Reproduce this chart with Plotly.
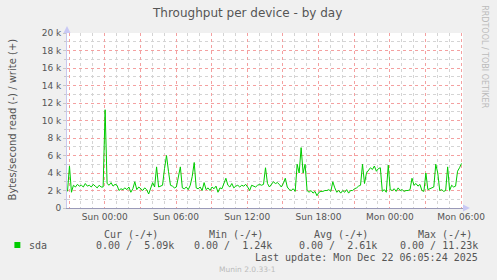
import plotly.graph_objects as go
import pandas as pd

# ---- data (write bytes/second, in thousands; 10-minute samples) ----
write_k = [
    1.9, 4.8, 1.8, 2.6, 2.4, 2.7, 2.5, 2.6, 2.4, 2.8,
    2.5, 2.6, 2.4, 2.7, 2.5, 2.3, 2.6, 2.4, 2.4, 11.23,
    2.8, 2.6, 2.9, 2.5, 2.7, 2.6, 2.0, 2.2, 2.1, 2.3,
    2.1, 2.4, 1.8, 2.2, 3.0, 2.1, 2.4, 2.2, 2.0, 2.3,
    2.1, 1.6, 2.2, 2.9, 2.4, 4.7, 2.4, 2.5, 2.6, 4.5,
    6.0, 4.2, 2.6, 2.5, 2.3, 2.4, 3.4, 4.7, 2.3, 2.2,
    2.4, 2.1, 2.6, 3.6, 5.2, 2.3, 2.2, 2.4, 2.0, 2.9,
    2.1, 2.3, 2.0, 2.4, 2.2, 2.5, 1.8, 2.3, 2.2, 2.8,
    3.4, 2.6, 2.4, 2.8, 2.3, 2.5, 2.6, 2.4, 2.6, 2.5,
    2.7, 2.4, 2.0, 2.6, 2.5, 2.4, 2.6, 2.7, 2.6, 2.7,
    4.6, 2.8, 2.4, 2.7, 3.0, 2.8, 2.9, 2.7, 2.4, 2.8,
    3.4, 2.4, 2.1, 2.0, 2.2, 1.9, 5.0, 4.0, 6.9, 4.0,
    5.0, 2.0, 1.8, 2.0, 1.7, 1.9, 1.4, 1.8, 1.9, 1.9,
    2.0, 2.0, 2.1, 1.9, 3.0, 2.3, 1.8, 2.0, 1.7, 2.0,
    1.8, 2.1, 1.7, 2.0, 2.0, 2.2, 2.3, 2.5, 2.6, 5.0,
    2.8, 4.0, 4.3, 4.6, 4.4, 4.8, 4.2, 4.5, 4.6, 1.9,
    2.1, 1.8, 4.9, 2.1, 2.0, 2.2, 1.9, 2.3, 2.0, 2.1,
    1.9, 2.0, 2.0, 2.1, 3.4, 2.6, 2.8, 2.5, 2.7, 2.0,
    1.9, 4.0, 2.1, 2.2, 2.3, 2.4, 5.0, 4.0, 2.0, 2.1,
    1.9, 2.0, 4.7, 2.0, 2.6, 2.4, 2.5, 4.2, 4.6, 5.09,
]
series_start = "2025-12-20 20:52"
y_tick_vals = [0, 2000, 4000, 6000, 8000, 10000, 12000, 14000, 16000, 18000, 20000]
y_tick_text = ["0", "2 k", "4 k", "6 k", "8 k", "10 k", "12 k", "14 k", "16 k", "18 k", "20 k"]
legend_headers = ["Cur (-/+)", "Min (-/+)", "Avg (-/+)", "Max (-/+)"]
legend_values = ["0.00 /\u00a0\u00a05.09k", "0.00 /\u00a0\u00a01.24k", "0.00 /\u00a0\u00a02.61k", "0.00 / 11.23k"]
series_name = "sda"

times = pd.date_range(series_start, periods=len(write_k), freq="10min")
write = [v * 1000 for v in write_k]

W, H = 497, 280
L, R, T, B = 67, 31, 33, 72
PW, PH = W - L - R, H - T - B

def px(x):
    return (x - L) / PW

def py(y):
    return (H - B - y) / PH

tickvals = pd.date_range("2025-12-20 21:00", "2025-12-22 06:00", freq="3h")
ticktext = [t.strftime("%a %H:%M") if t.hour % 6 == 0 else "" for t in tickvals]

GREY = "#555555"
FONT = "DejaVu Sans"
MONO = "DejaVu Sans Mono"

fig = go.Figure()
fig.add_trace(go.Scatter(x=times, y=write, mode="lines", name=series_name,
                         line=dict(color="#00CC00", width=1), hoverinfo="skip"))

fig.update_layout(
    width=W, height=H,
    margin=dict(l=L, r=R, t=T, b=B, pad=0),
    paper_bgcolor="#F0F0F0", plot_bgcolor="#FFFFFF",
    showlegend=False,
    font=dict(family=FONT, size=9, color=GREY),
    xaxis=dict(
        type="date",
        range=["2025-12-20 20:49:30", "2025-12-22 06:09:30"],
        tickmode="array", tickvals=list(tickvals), ticktext=ticktext,
        showgrid=True, gridcolor="#F4A0A0", griddash="dot", gridwidth=1,
        minor=dict(dtick=3600000, tick0="2025-12-20 21:00", showgrid=True,
                   gridcolor="#D4D4D4", griddash="dot", gridwidth=1),
        showline=True, linecolor="#9A9AB8", linewidth=1,
        ticks="", zeroline=False,
        tickfont=dict(family=FONT, size=9, color=GREY),
    ),
    yaxis=dict(
        range=[0, 20000],
        tickmode="array", tickvals=y_tick_vals, ticktext=y_tick_text,
        showgrid=True, gridcolor="#F4A0A0", griddash="dot", gridwidth=1,
        minor=dict(dtick=1000, tick0=0, showgrid=True,
                   gridcolor="#D4D4D4", griddash="dot", gridwidth=1,
                   ticks="outside", ticklen=2, tickcolor="#C8C8C8"),
        showline=True, linecolor="#C8C8EE", linewidth=1,
        ticks="outside", ticklen=3, tickcolor="#C8C8C8",
        zeroline=False,
        tickfont=dict(family=FONT, size=9, color=GREY),
    ),
)

ann = []
# title
ann.append(dict(x=px(248.5), y=py(13), text="Throughput per device - by day",
                font=dict(family=FONT, size=12, color=GREY)))
# y title
ann.append(dict(x=px(12), y=py(119), text="Bytes/second read (-) / write (+)",
                textangle=-90, font=dict(family=FONT, size=10, color=GREY)))
# right vertical text
ann.append(dict(x=px(488), y=py(57), text="RRDTOOL / TOBI OETIKER",
                textangle=90, font=dict(family=FONT, size=8, color="#BBBBBB")))
# legend
ann.append(dict(x=px(26.5), y=py(245.5), text=series_name, xanchor="left",
                font=dict(family=MONO, size=10, color=GREY)))
header_right = [160.5, 266, 372, 477]
value_right = [176.5, 275.5, 381, 483.5]
for h, xr in zip(legend_headers, header_right):
    ann.append(dict(x=px(xr), y=py(234), text=h, xanchor="right",
                    font=dict(family=MONO, size=10, color=GREY)))
for v, xr in zip(legend_values, value_right):
    ann.append(dict(x=px(xr), y=py(245.5), text=v, xanchor="right",
                    font=dict(family=MONO, size=10, color=GREY)))
ann.append(dict(x=px(483.5), y=py(257.5), text="Last update: Mon Dec 22 06:05:24 2025",
                xanchor="right", font=dict(family=MONO, size=10, color=GREY)))
ann.append(dict(x=px(248.5), y=py(269), text="Munin 2.0.33-1",
                font=dict(family=FONT, size=7.5, color="#BBBBBB")))
for a in ann:
    a.setdefault("xanchor", "center")
    a.update(xref="paper", yref="paper", yanchor="middle", showarrow=False)
fig.update_layout(annotations=ann)

shapes = []
# legend colour square
shapes.append(dict(type="rect", xref="paper", yref="paper",
                   x0=px(14), x1=px(20), y0=py(248), y1=py(242),
                   fillcolor="#00CC00", line=dict(width=0)))
# axis arrows
shapes.append(dict(type="path", xref="paper", yref="paper",
                   path=f"M {px(63.5)} {py(33)} L {px(70.5)} {py(33)} L {px(67)} {py(26)} Z",
                   fillcolor="#C8C8F4", line=dict(width=0)))
shapes.append(dict(type="path", xref="paper", yref="paper",
                   path=f"M {px(466)} {py(204.5)} L {px(466)} {py(211.5)} L {px(473)} {py(208)} Z",
                   fillcolor="#C8C8F4", line=dict(width=0)))
fig.update_layout(shapes=shapes)

fig.write_html("out.html")
